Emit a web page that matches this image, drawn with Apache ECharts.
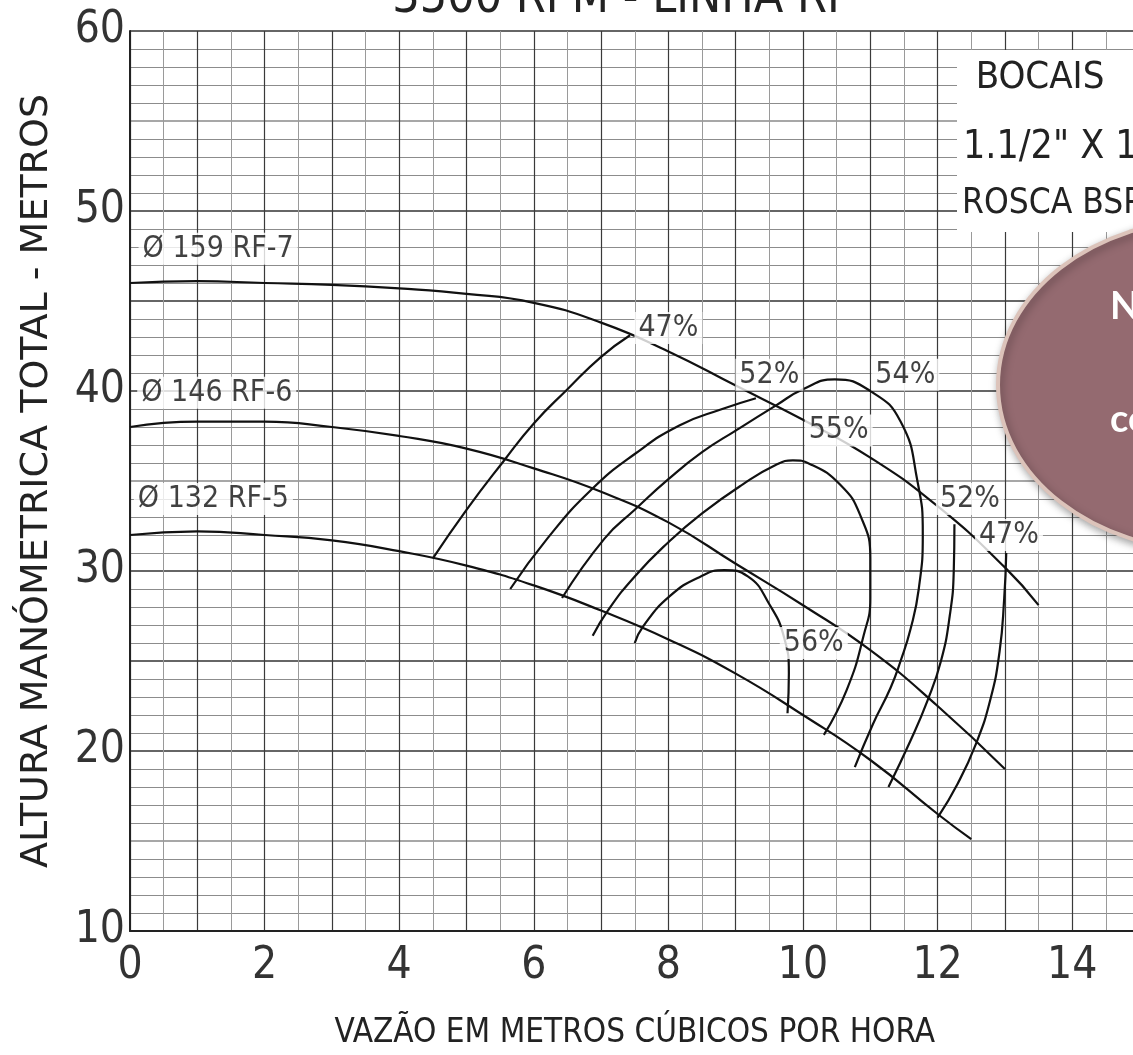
<!DOCTYPE html>
<html>
<head>
<meta charset="utf-8">
<title>3500 RPM - LINHA RF</title>
<script src="https://cdn.jsdelivr.net/npm/echarts@6/dist/echarts.min.js"></script>
<style>
    html, body { margin: 0; padding: 0; background: #fff; }
    #chart { width: 1133px; height: 1055px; }
</style>
</head>
<body>
<div id="chart"></div>
<script>
// curvas altura x vazao (rotores)
var rf7 = [[0, 46.0], [1, 46.1], [2, 46.0], [3, 45.9], [4, 45.7], [5, 45.4], [6, 44.9], [7, 43.8], [8, 42.2], [9, 40.3], [10, 38.4], [11, 36.3], [12, 33.6], [13, 30.2], [13.5, 28.1]];
var rf6 = [[0, 38.0], [1, 38.3], [2, 38.3], [3, 38.0], [4, 37.5], [5, 36.8], [6, 35.7], [7, 34.4], [8, 32.7], [9, 30.4], [10, 28.1], [11, 25.6], [12, 22.5], [13, 19.0]];
var rf5 = [[0, 32.0], [1, 32.2], [2, 32.0], [3, 31.7], [4, 31.1], [5, 30.3], [6, 29.2], [7, 27.8], [8, 26.2], [9, 24.3], [10, 22.0], [11, 19.5], [12, 16.5], [12.5, 15.1]];

// curvas de rendimento
var eff47a = [[4.5, 30.7], [5.0, 33.4], [5.55, 36.1], [6.0, 38.2], [6.5, 40.1], [7.0, 41.9], [7.43, 43.1]];
var eff47b = [[13.02, 31.0], [12.99, 28.5], [12.92, 25.5], [12.78, 22.8], [12.57, 20.4], [12.3, 18.2], [12.0, 16.3]];
var eff52a = [[5.65, 29.0], [6.2, 31.8], [6.85, 34.5], [7.5, 36.5], [8.17, 38.1], [8.8, 39.0], [9.3, 39.6]];
var eff52b = [[12.25, 32.6], [12.24, 30.0], [12.18, 27.5], [12.05, 25.0], [11.85, 22.8], [11.6, 20.6], [11.27, 18.0]];
var eff54 = [[6.42, 28.5], [7.05, 31.8], [7.5, 33.4], [8.0, 35.1], [8.5, 36.6], [9.0, 37.8], [9.6, 39.2], [10.0, 40.1], [10.47, 40.65], [11.0, 40.0], [11.45, 38.3], [11.7, 35.0], [11.78, 32.0], [11.72, 29.0], [11.6, 26.8], [11.45, 25.0], [11.3, 23.5], [11.04, 21.5], [10.77, 19.1]];
var eff55 = [[6.875, 26.4], [7.1, 27.8], [7.5, 29.7], [8.0, 31.6], [8.5, 33.2], [9.1, 34.8], [9.6, 35.9], [9.85, 36.15], [10.1, 35.95], [10.55, 34.8], [10.85, 33.1], [11.0, 30.7], [11.0, 28.5], [10.9, 26.4], [10.65, 23.4], [10.31, 20.9]];
var eff56 = [[7.5, 26.0], [7.62, 26.9], [8.02, 28.6], [8.48, 29.7], [8.83, 30.05], [9.18, 29.7], [9.5, 28.15], [9.72, 26.3], [9.79, 24.3], [9.77, 22.1]];

// rotulos (em unidades do grafico)
var effText = ['47%', '52%', '54%', '55%', '52%', '47%', '56%'];
var effX = [8.0, 9.5, 11.52, 10.53, 12.48, 13.06, 10.16];
var effY = [43.5, 40.9, 40.9, 37.8, 34.0, 32.0, 26.0];

var rotorText = ['Ø 159 RF-7', 'Ø 146 RF-6', 'Ø 132 RF-5'];
var rotorX = [0.12, 0.1, 0.05];
var rotorY = [47.9, 39.9, 34.0];

var xTickLabels = [0, 2, 4, 6, 8, 10, 12, 14];
var yTickLabels = [10, 20, 30, 40, 50, 60];

var CAD = "'Liberation Sans Narrow', 'DejaVu Sans Condensed', 'Liberation Sans', sans-serif";
var WIDE = "'DejaVu Sans', sans-serif";
var INK = '#222';

function curve(data) {
    return {
        type: 'line',
        data: data,
        smooth: 0.5,
        symbol: 'none',
        silent: true,
        z: 3,
        lineStyle: { color: '#111', width: 2.2 }
    };
}

function labels(texts, xs, ys, pos) {
    return {
        type: 'scatter',
        data: xs.map((x, i) => [x, ys[i], texts[i]]),
        symbolSize: 1,
        itemStyle: { color: 'transparent' },
        silent: true,
        z: 6,
        label: {
            show: true,
            position: pos,
            distance: 0,
            formatter: p => p.data[2],
            backgroundColor: '#fff',
            padding: [1, 4],
            fontFamily: CAD,
            fontSize: 30,
            color: '#111'
        }
    };
}

var chart = echarts.init(document.getElementById('chart'));

var option = {
    animation: false,
    backgroundColor: '#fff',
    grid: { left: 130, top: 31, width: 1009.5, height: 900, containLabel: false, outerBoundsMode: 'none' },
    xAxis: {
        type: 'value',
        min: 0,
        max: 15,
        interval: 1,
        name: 'VAZÃO EM METROS CÚBICOS POR HORA',
        nameLocation: 'middle',
        nameGap: 86,
        nameMoveOverlap: false,
        nameTextStyle: { fontFamily: CAD, fontSize: 33, color: INK },
        axisLine: { show: true, onZero: false, lineStyle: { color: '#222', width: 2 } },
        axisTick: { show: false },
        axisLabel: {
            fontFamily: CAD, fontSize: 44, color: '#333', margin: 14,
            showMaxLabel: false,
            formatter: v => xTickLabels.includes(v) ? String(v) : ''
        },
        splitLine: { show: true, lineStyle: { color: '#3a3a3a', width: 1.2 } },
        minorTick: { show: false, splitNumber: 2 },
        minorSplitLine: { show: true, lineStyle: { color: '#9a9a9a', width: 1 } }
    },
    yAxis: {
        type: 'value',
        min: 10,
        max: 60,
        interval: 5,
        name: 'ALTURA MANÓMETRICA TOTAL - METROS',
        nameLocation: 'middle',
        nameGap: 74,
        nameMoveOverlap: false,
        nameTextStyle: { fontFamily: WIDE, fontSize: 38, color: INK },
        axisLine: { show: true, lineStyle: { color: '#222', width: 2 } },
        axisTick: { show: false },
        axisLabel: {
            fontFamily: CAD, fontSize: 44, color: '#333', margin: 5,
            formatter: v => yTickLabels.includes(v) ? String(v) : ''
        },
        splitLine: {
            show: true,
            lineStyle: {
                color: ['#333', '#8a8a8a', '#333', '#333', '#333', '#8a8a8a', '#333', '#333', '#333', '#8a8a8a', '#333'],
                width: 1.5
            }
        },
        minorTick: { show: false, splitNumber: 5 },
        minorSplitLine: { show: true, lineStyle: { color: '#8c8c8c', width: 1 } }
    },
    graphic: [
        {
            type: 'text', x: 622, y: 24, z: 20,
            style: { text: '3500 RPM - LINHA RF', font: "48px " + CAD, fill: INK, align: 'center', verticalAlign: 'bottom' }
        },
        { type: 'rect', shape: { x: 957, y: 50, width: 200, height: 182 }, style: { fill: '#fff' }, z: 10 },
        { type: 'text', x: 1040, y: 78, z: 11, style: { text: 'BOCAIS', font: "38px " + CAD, fill: INK, align: 'center', verticalAlign: 'middle' } },
        { type: 'text', x: 963, y: 148, z: 11, style: { text: '1.1/2" X 1"', font: "39px " + CAD, fill: INK, align: 'left', verticalAlign: 'middle' } },
        { type: 'text', x: 962, y: 204, z: 11, style: { text: 'ROSCA BSP', font: "35px " + CAD, fill: INK, align: 'left', verticalAlign: 'middle' } },
        {
            type: 'ellipse', z: 30,
            shape: { cx: 1212, cy: 385, rx: 214, ry: 166 },
            style: {
                fill: '#946a70', stroke: '#dcc3ba', lineWidth: 4,
                shadowBlur: 8, shadowColor: 'rgba(0,0,0,0.35)', shadowOffsetX: 2, shadowOffsetY: 3
            }
        },
        { type: 'text', x: 1110, y: 307, z: 31, style: { text: 'N', font: "bold 38px Lato, 'Open Sans', sans-serif", fill: '#fff', align: 'left', verticalAlign: 'middle' } },
        { type: 'text', x: 1110, y: 420, z: 31, style: { text: 'co', font: "bold 38px Lato, 'Open Sans', sans-serif", fill: '#fff', align: 'left', verticalAlign: 'middle' } }
    ],
    series: [
        curve(rf7), curve(rf6), curve(rf5),
        curve(eff47a), curve(eff47b), curve(eff52a), curve(eff52b),
        curve(eff54), curve(eff55), curve(eff56),
        labels(effText, effX, effY, 'inside'),
        labels(rotorText, rotorX, rotorY, 'right')
    ]
};

chart.setOption(option);
</script>
</body>
</html>
